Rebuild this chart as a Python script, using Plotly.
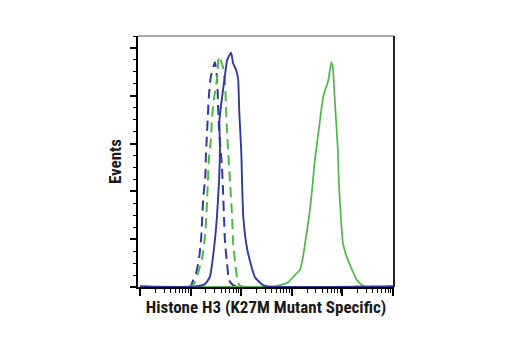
import plotly.graph_objects as go

# Fluorescence intensity (log scale) and event counts
blue_solid_x = [1, 12.3, 19.1, 24.0, 28.8, 33.1, 36.3, 38.0, 37.2, 43.7, 50.1, 52.5, 63.1, 69.2,
                79.4, 87.1, 91.2, 100, 110, 132, 186, 269, 339, 100000]
blue_solid_y = [0.5, 0.5, 3, 10.5, 39, 73, 109, 143, 175, 206, 230, 237, 245, 234,
                227, 217, 185, 143, 73, 39, 10.5, 2, 0.5, 0.5]

blue_dash_x = [1, 9.77, 11.2, 12.9, 14.8, 16.2, 17.0, 17.8, 19.5, 20.0, 20.9, 21.9, 22.9, 25.1,
               30.2, 33.1, 34.7, 36.3, 41.7, 43.7, 45.7, 47.9, 52.5, 57.5, 69.2, 79.4, 100000]
blue_dash_y = [0.5, 0.5, 7, 15, 31, 52, 73, 94, 115, 136, 157, 178, 199, 220,
               235, 220, 196, 167, 125, 101, 73, 46, 25, 7, 2, 0.5, 0.5]

green_dash_x = [1, 9.77, 12.3, 14.1, 17.0, 19.5, 20.9, 21.9, 22.9, 25.1, 26.3, 28.8, 33.1, 36.3,
                43.7, 47.9, 50.1, 52.5, 55.0, 60.3, 66.1, 69.2, 75.9, 83.2, 91.2, 105, 100000]
green_dash_y = [0.5, 0.5, 5, 15, 31, 57, 84, 109, 133, 154, 175, 196, 217, 241,
                230, 213, 188, 161, 143, 109, 73, 46, 25, 9, 2, 0.5, 0.5]

green_solid_x = [1, 427, 589, 851, 1148, 1445, 1660, 1905, 2188, 2512, 2754, 3020, 3467, 4169,
                 5248, 6026, 6457, 7079, 7762, 8128, 8511, 9333, 10230, 12300, 15490, 19500,
                 24550, 28180, 100000]
green_solid_y = [0.5, 0.5, 2, 5, 12.5, 18, 31, 52, 73, 101, 125, 143, 167, 199,
                 216, 235, 230, 196, 161, 143, 109, 73, 46, 31, 18, 7, 2, 0.5, 0.5]

x_major = [1, 10, 100, 1000, 10000, 100000]
x_minor = [m * d for d in [1, 10, 100, 1000, 10000] for m in range(2, 10)]
y_major = [0, 50, 100, 150, 200, 250]

BLUE = "#2F3A9C"
GREEN = "#4DB848"

fig = go.Figure()
fig.add_trace(go.Scatter(x=blue_dash_x, y=blue_dash_y, mode="lines",
                         line=dict(color=BLUE, width=2, dash="10px,6px", shape="spline", smoothing=0.5)))
fig.add_trace(go.Scatter(x=green_dash_x, y=green_dash_y, mode="lines",
                         line=dict(color=GREEN, width=2, dash="10px,6px", shape="spline", smoothing=0.5)))
fig.add_trace(go.Scatter(x=green_solid_x, y=green_solid_y, mode="lines",
                         line=dict(color=GREEN, width=1.7, shape="spline", smoothing=0.5)))
fig.add_trace(go.Scatter(x=blue_solid_x, y=blue_solid_y, mode="lines",
                         line=dict(color=BLUE, width=1.9, shape="spline", smoothing=0.5)))

font_fam = "Roboto Condensed, DejaVu Sans Condensed, sans-serif"

fig.update_layout(
    width=520, height=350,
    margin=dict(l=138, r=126, t=36, b=63),
    paper_bgcolor="white", plot_bgcolor="white",
    showlegend=False,
    xaxis=dict(
        type="log", range=[-0.04, 5.02],
        showgrid=False, zeroline=False,
        showline=True, linecolor="black", linewidth=2,
        ticks="outside", ticklen=7, tickwidth=2, tickcolor="black",
        tickvals=x_major, showticklabels=False,
        minor=dict(tickvals=x_minor, ticks="outside", ticklen=4, tickwidth=1.2,
                   tickcolor="black", showgrid=False),
        title=dict(text="<b>Histone H3 (K27M Mutant Specific)</b>",
                   font=dict(family=font_fam, size=17, color="#1a1a1a"), standoff=6),
    ),
    yaxis=dict(
        range=[0, 262.5],
        showgrid=False, zeroline=False,
        showline=True, linecolor="black", linewidth=2,
        ticks="outside", ticklen=6, tickwidth=2, tickcolor="black",
        tickvals=y_major, showticklabels=False,
        minor=dict(dtick=12.5, ticks="outside", ticklen=3, tickwidth=1.2,
                   tickcolor="black", showgrid=False),
        title=dict(text="<b>Events</b>",
                   font=dict(family=font_fam, size=17, color="#1a1a1a"), standoff=4),
    ),
    shapes=[
        dict(type="line", xref="paper", yref="paper", x0=0, x1=1, y0=1, y1=1,
             line=dict(color="#555555", width=1)),
        dict(type="line", xref="paper", yref="paper", x0=1, x1=1, y0=0, y1=1,
             line=dict(color="#222222", width=2)),
    ],
)

fig.write_html("out.html")
